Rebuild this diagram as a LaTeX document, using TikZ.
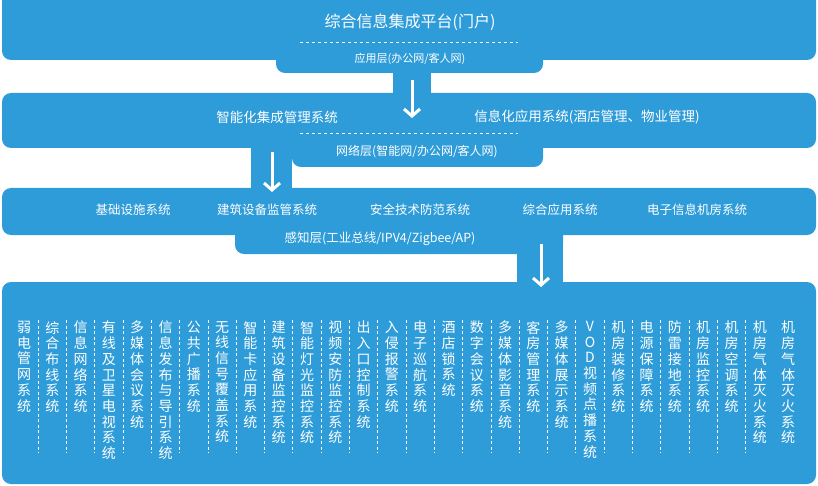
\documentclass[tikz,border=0pt]{standalone}
\usepackage{fontspec}
\setmainfont{Noto Sans CJK SC}
\usetikzlibrary{arrows.meta, positioning, calc}
\definecolor{LBlue}{HTML}{2E9CD9}

\tikzset{
  layer/.style={fill=LBlue, rounded corners=9pt},
  lbl/.style={text=white, inner sep=1pt},
  sep/.style={white, dashed, line width=0.8pt, dash pattern=on 3pt off 3pt},
  flow/.style={white, line width=3pt, -{Straight Barb[length=7pt, width=16pt, line width=3pt]}},
  vcol/.style={text=white, font=\fontsize{14}{15.7}\selectfont, align=center, anchor=north, inner sep=0pt},
}

\begin{document}
\begin{tikzpicture}[x=1pt, y=-1pt]
    \useasboundingbox (0,0) rectangle (818,486);

    % Layer boxes
    \fill[layer] (2,-10) rectangle (816,60);
    \fill[layer] (276,40) rectangle (543,73);
    \fill[LBlue] (393,60) rectangle (431,93);
    \fill[layer] (2,93) rectangle (816,148);
    \fill[layer] (292,130) rectangle (543,167);
    \fill[LBlue] (251,140) rectangle (292,188);
    \fill[layer] (2,188) rectangle (816,235);
    \fill[layer] (235,220) rectangle (563,254);
    \fill[LBlue] (517,235) rectangle (563,282);
    \fill[layer] (2,282) rectangle (816,484);

    % Top layer
    \node[lbl, font=\fontsize{16}{18}\selectfont] (portal) at (410,22) {综合信息集成平台(门户)};
    \draw[sep] (300,42) -- (518,42);
    \node[lbl, font=\fontsize{11}{13}\selectfont] (applayer) at (410,59) {应用层(办公网/客人网)};

    % Second layer
    \node[lbl, font=\fontsize{13.5}{15}\selectfont] (intsys) at (277,117) {智能化集成管理系统};
    \node[lbl, font=\fontsize{13.5}{15}\selectfont] (infosys) at (587,117) {信息化应用系统(酒店管理、物业管理)};
    \draw[sep] (300,133) -- (518,133);
    \node[lbl, font=\fontsize{12}{14}\selectfont] (netlayer) at (417,152) {网络层(智能网/办公网/客人网)};

    % Third layer
    \foreach \n/\x/\t in {a/133/基础设施系统, b/267/建筑设备监管系统, c/420/安全技术防范系统, d/560/综合应用系统, e/697/电子信息机房系统}
        \node[lbl, font=\fontsize{12.5}{14}\selectfont] (sub\n) at (\x,210) {\t};
    \node[lbl, font=\fontsize{12.5}{14}\selectfont] (senselayer) at (380,239) {感知层(工业总线/IPV4/Zigbee/AP)};

    % Arrows
    \coordinate (a1s) at (412,80);  \coordinate (a1e) at (412,118);
    \coordinate (a2s) at (272,152); \coordinate (a2e) at (272,192);
    \coordinate (a3s) at (541,244); \coordinate (a3e) at (541,287);
    \draw[flow] (a1s) -- (a1e);
    \draw[flow] (a2s) -- (a2e);
    \draw[flow] (a3s) -- (a3e);

    % Bottom layer columns
    \foreach \i/\t in {0/弱\\电\\管\\网\\系\\统, 1/综\\合\\布\\线\\系\\统, 2/信\\息\\网\\络\\系\\统,
        3/有\\线\\及\\卫\\星\\电\\视\\系\\统, 4/多\\媒\\体\\会\\议\\系\\统, 5/信\\息\\发\\布\\与\\导\\引\\系\\统,
        6/公\\共\\广\\播\\系\\统, 7/无\\线\\信\\号\\覆\\盖\\系\\统, 8/智\\能\\卡\\应\\用\\系\\统,
        9/建\\筑\\设\\备\\监\\控\\系\\统, 10/智\\能\\灯\\光\\监\\控\\系\\统, 11/视\\频\\安\\防\\监\\控\\系\\统,
        12/出\\入\\口\\控\\制\\系\\统, 13/入\\侵\\报\\警\\系\\统, 14/电\\子\\巡\\航\\系\\统,
        15/酒\\店\\锁\\系\\统, 16/数\\字\\会\\议\\系\\统, 17/多\\媒\\体\\影\\音\\系\\统,
        18/客\\房\\管\\理\\系\\统, 19/多\\媒\\体\\展\\示\\系\\统, 20/V\\O\\D\\视\\频\\点\\播\\系\\统,
        21/机\\房\\装\\修\\系\\统, 22/电\\源\\保\\障\\系\\统, 23/防\\雷\\接\\地\\系\\统,
        24/机\\房\\监\\控\\系\\统, 25/机\\房\\空\\调\\系\\统, 26/机\\房\\气\\体\\灭\\火\\系\\统,
        27/机\\房\\气\\体\\灭\\火\\系\\统}
        \node[vcol] (col\i) at ({24+28.3*\i},321) {\t};

    % Column separators
    \foreach \i in {0,...,25}
        \draw[sep, line width=0.6pt, dash pattern=on 3pt off 2.5pt] ({38+28.3*\i},320) -- ({38+28.3*\i},453);
\end{tikzpicture}
\end{document}
